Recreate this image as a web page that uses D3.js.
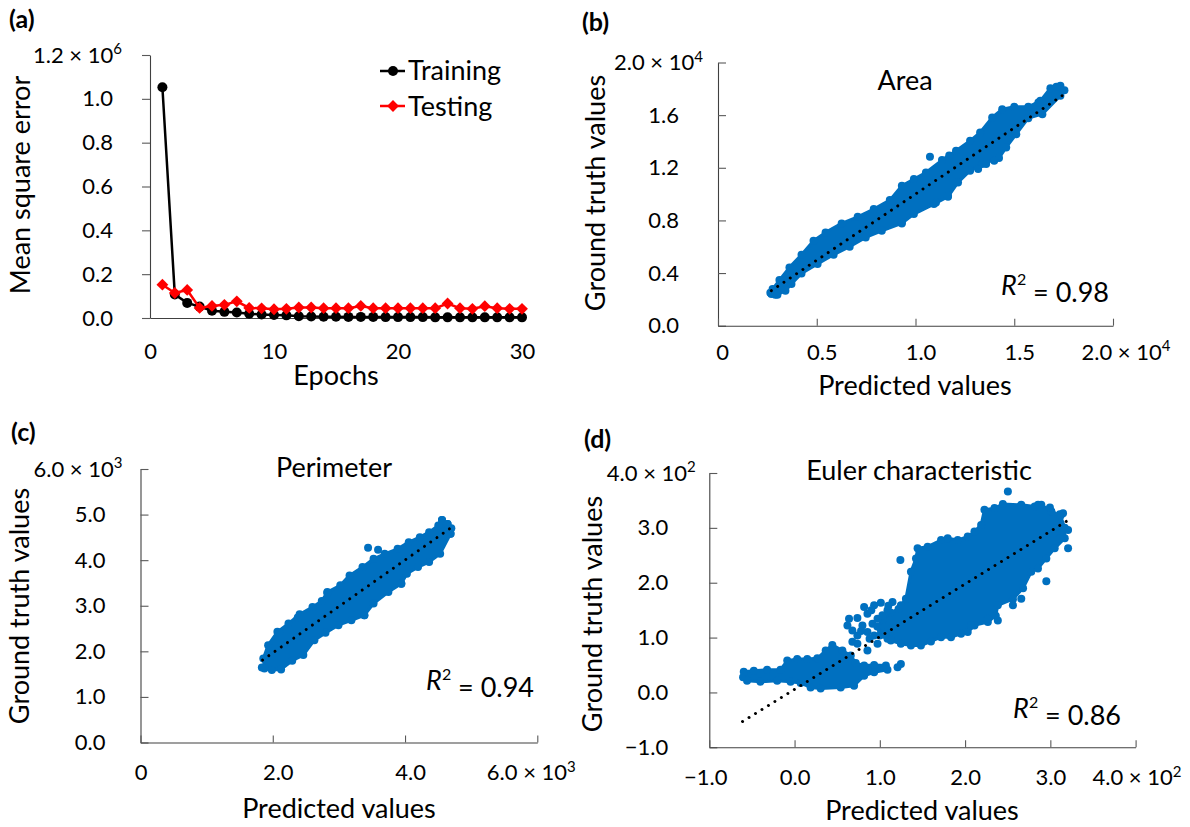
<!DOCTYPE html>
<html><head><meta charset="utf-8">
<script src="https://cdn.jsdelivr.net/npm/d3@7"></script>
<style>
html,body{margin:0;padding:0;background:#fff;}
svg{display:block;}
</style></head><body>
<svg id="chart" width="1190" height="827"></svg>
<script>
// ---------------- DATA ----------------
// (a) learning curves, MSE in units of 10^6
const epochs = [1,2,3,4,5,6,7,8,9,10,11,12,13,14,15,16,17,18,19,20,21,22,23,24,25,26,27,28,29,30];
const trainingMSE = [1.053,0.107,0.069,0.052,0.033,0.028,0.025,0.019,0.016,0.014,0.012,0.008,0.007,0.006,0.006,0.005,0.005,0.005,0.004,0.004,0.004,0.004,0.003,0.003,0.003,0.003,0.003,0.003,0.003,0.003];
const testingMSE  = [0.152,0.114,0.128,0.046,0.055,0.060,0.076,0.046,0.044,0.040,0.042,0.048,0.048,0.045,0.045,0.045,0.055,0.045,0.045,0.045,0.045,0.045,0.045,0.066,0.045,0.042,0.054,0.045,0.042,0.042];
const mseTicks = [0,0.2,0.4,0.6,0.8,1.0,1.2];
const mseTickLabels = ["0.0","0.2","0.4","0.6","0.8","1.0","1.2"];
const epochTicks = [0,10,20,30];
const epochTickLabels = ["0","10","20","30"];

// (b) Area: predicted (x) vs ground truth (y)
const areaTicksY = [0,4000,8000,12000,16000,20000];
const areaTickLabelsY = ["0.0","0.4","0.8","1.2","1.6","2.0"];
const areaTicksX = [0,5000,10000,15000,20000];
const areaTickLabelsX = ["0","0.5","1.0","1.5","2.0"];
const areaCloud = [[2764,2785],[3110,3468],[3618,4430],[4228,5392],[4837,6456],[5447,7089],[6260,7772],[7073,8278],[7886,8861],[8699,9544],[9309,10633],[9919,11139],[10528,11646],[11341,12582],[12053,13291],[12764,14051],[13272,14684],[13882,15823],[14390,16456],[15000,16633],[15711,16633],[16321,17089],[16829,18051],[17337,18228],[17541,17899],[17337,17468],[16423,16076],[15711,15772],[15102,14557],[14593,13544],[14228,12734],[13374,12278],[12764,11772],[12154,10886],[11646,9797],[10935,9241],[9919,8481],[9309,7772],[8293,7215],[7480,6709],[6667,6000],[5854,5392],[5041,4684],[4228,3975],[3720,3165],[3415,2658],[3008,2354],[2703,2405]];
const areaPoints = [[10732,12835],[11707,12937],[13984,12532],[13171,11899],[13577,12278],[11646,9873],[11037,9367],[9309,7848],[16728,17342],[16220,16962],[17134,18152],[2650,2500],[2900,2350]];
const areaFit = [[2700,2660],[17540,17590]];

// (c) Perimeter
const perimTicksY = [0,1000,2000,3000,4000,5000,6000];
const perimTickLabelsY = ["0.0","1.0","2.0","3.0","4.0","5.0","6.0"];
const perimTicksX = [0,2000,4000,6000];
const perimTickLabelsX = ["0","2.0","4.0","6.0"];
const perimCloud = [[1857,1844],[1930,2136],[2070,2427],[2238,2609],[2406,2813],[2601,2974],[2741,3105],[2825,3302],[3021,3447],[3161,3666],[3357,3848],[3524,4031],[3692,4140],[3888,4249],[4056,4395],[4224,4504],[4364,4614],[4503,4759],[4559,4883],[4643,4796],[4688,4577],[4531,4140],[4364,3958],[4196,3848],[4028,3703],[3944,3484],[3748,3302],[3524,3047],[3385,2792],[3189,2682],[2993,2573],[2797,2405],[2629,2245],[2462,1917],[2294,1793],[2126,1603],[1986,1589],[1874,1625]];
const perimPoints = [[3441,4271],[3592,4227],[3385,2792],[3273,2813],[3944,3484],[4559,4883],[4643,4796],[4688,4577],[2098,2405],[1835,1647],[2378,2741],[2825,3280],[4700,4700]];
const perimFit = [[1846,1808],[4671,4687]];

// (d) Euler characteristic
const eulerTicks = [-100,0,100,200,300,400];
const eulerTickLabels = ["\u22121.0","0.0","1.0","2.0","3.0","4.0"];
const eulerTail = [[-60.4,27.5],[-59.6,37.9],[-47.8,39.7],[-32.2,41.5],[-16.5,41.5],[-8.6,58.0],[3.1,61.1],[14.9,61.1],[26.7,62.3],[36.5,76.4],[44.3,86.7],[56.1,76.4],[65.9,67.2],[71.8,53.8],[81.6,48.9],[93.3,50.1],[107.1,48.9],[109.0,41.5],[93.3,36.7],[81.6,30.5],[69.8,12.2],[54.1,9.2],[30.6,7.3],[18.8,9.2],[7.1,17.1],[-4.7,19.5],[-20.4,21.4],[-40.0,19.5],[-55.7,21.4]];
const eulerCore = [[109.0,97.7],[100.0,104.0],[97.0,120.0],[103.1,132.0],[112.0,146.0],[122.0,152.0],[130.6,171.0],[136.5,219.9],[142.4,244.3],[144.3,262.7],[156.1,265.7],[171.8,277.9],[179.6,281.0],[191.4,277.9],[203.1,284.1],[211.0,293.2],[218.8,305.4],[222.7,332.9],[234.5,336.0],[244.3,343.3],[265.9,342.1],[281.6,339.0],[289.4,342.1],[301.2,329.9],[312.0,322.0],[316.9,300.0],[316.9,281.0],[305.1,262.7],[295.3,244.3],[285.5,226.0],[277.6,219.9],[268.0,190.0],[256.1,170.0],[238.4,158.8],[236.0,140.0],[226.7,128.3],[211.0,122.2],[203.1,110.0],[195.3,106.9],[183.5,100.8],[171.8,100.8],[160.0,92.9],[148.2,85.5],[136.5,85.5],[124.7,88.6],[112.9,94.7]];
const eulerPoints = [[63.9,134.4],[73.7,135.6],[81.6,155.8],[85.5,143.6],[93.3,158.8],[101.2,163.7],[114.9,164.9],[124.7,158.8],[67.8,113.0],[73.7,103.8],[85.5,110.0],[73.7,88.6],[85.5,76.4],[97.3,88.6],[91.4,125.2],[103.1,140.5],[109.0,149.7],[124.1,241.3],[62.0,122.2],[79.6,122.2],[97.3,134.4],[105.1,110.0],[93.3,103.8],[67.8,92.2],[88.0,98.0],[78.0,112.0],[90.0,150.0],[110.0,158.0],[250.2,366.5],[295.3,202.8],[320.8,262.7],[314.9,326.8],[320.8,296.3],[301.2,329.9],[265.9,171.0],[256.1,158.8],[238.4,131.3],[207.1,122.2],[226.7,134.4],[311.0,281.0],[120.8,45.8],[124.7,51.9],[285.6,342.1],[299.5,337.2],[311.1,324.9]];
const eulerFit = [[-61,-53],[320,313]];

// ---------------- DRAWING ----------------
const FONT = "Lato, 'Open Sans', 'DejaVu Sans', sans-serif";
const BLUE = "#0070C0", RED = "#FF0000", BLACK = "#000000";
const AXIS = "#404040";
const svg = d3.select("#chart");

function txt(x, y, s, size, anchor) {
  return svg.append("text").attr("x", x).attr("y", y)
    .attr("font-family", FONT).attr("font-size", size).attr("fill", "#000")
    .attr("text-anchor", anchor || "start").text(s);
}
function vtitle(cx, cy, s) {
  svg.append("text").attr("transform", `translate(${cx},${cy}) rotate(-90)`)
    .attr("dy", "0.35em").attr("text-anchor", "middle")
    .attr("font-family", FONT).attr("font-size", 27).attr("fill", "#000").text(s);
}
function r2(xEnd, base, val) {
  const t = svg.append("text").attr("x", xEnd).attr("y", base).attr("text-anchor", "end")
    .attr("font-family", FONT).attr("font-size", 27).attr("fill", "#000");
  t.append("tspan").attr("font-style", "italic").text("R");
  t.append("tspan").attr("font-size", 16).attr("dy", "-0.6em").text("2");
  t.append("tspan").attr("dy", "0.6em").text(" = " + val);
}
function styleAxis(g) {
  g.attr("font-family", null).attr("font-size", null);
  g.select(".domain").attr("stroke", AXIS).attr("stroke-width", 1.1);
  g.selectAll(".tick line").attr("stroke", "#595959").attr("stroke-width", 1.1);
  g.selectAll(".tick text").attr("fill", "#000").style("font-family", FONT).style("font-size", "22px");
}
function addExp(textSel, base, exp) {
  textSel.text(base + " \u00d7 10");
  textSel.append("tspan").attr("dy", "-0.55em").style("font-size", "15px").text(exp);
}
function yAxis(x0, yS, vals, labels, exp, o) {
  const g = svg.append("g").attr("transform", `translate(${x0},0)`);
  const ts = o.inward ? -8 : 8;
  g.call(d3.axisLeft(yS).tickValues(vals).tickFormat((d, i) => labels[i])
    .tickSize(ts).tickSizeOuter(0).tickPadding(o.inward ? o.gap : o.gap - 8));
  styleAxis(g);
  const n = vals.length;
  g.selectAll(".tick text").filter((d, i) => i === n - 1).each(function () {
    const t = d3.select(this).attr("x", -o.topGap);
    addExp(t, labels[n - 1], exp);
  });
}
function xAxis(y0, xS, vals, labels, exp, o) {
  const g = svg.append("g").attr("transform", `translate(0,${y0})`);
  g.call(d3.axisBottom(xS).tickValues(vals).tickFormat((d, i) => labels[i])
    .tickSize(o.tick ? -7 : 0).tickSizeOuter(0));
  styleAxis(g);
  const n = vals.length;
  g.selectAll(".tick text").attr("y", o.base).attr("dy", null)
    .attr("dx", (d, i) => (i === 0 ? (o.dx0 || 0) : o.dx));
  if (exp) {
    g.selectAll(".tick text").filter((d, i) => i === n - 1).each(function () {
      const t = d3.select(this).attr("text-anchor", "start").attr("dx", null).attr("x", o.lastStart);
      addExp(t, labels[n - 1], exp);
    });
  }
}
function cloud(poly, xS, yS) {
  svg.append("path").datum(poly)
    .attr("d", d3.line().x(d => xS(d[0])).y(d => yS(d[1])).curve(d3.curveLinearClosed))
    .attr("fill", BLUE).attr("stroke", BLUE).attr("stroke-width", 3).attr("stroke-linejoin", "round");
  dots(poly, xS, yS);
}
function dots(pts, xS, yS) {
  svg.append("g").selectAll("circle").data(pts).join("circle")
    .attr("cx", d => xS(d[0])).attr("cy", d => yS(d[1])).attr("r", 4).attr("fill", BLUE);
}
function fit(seg, xS, yS) {
  svg.append("path").datum(seg)
    .attr("d", d3.line().x(d => xS(d[0])).y(d => yS(d[1])))
    .attr("fill", "none").attr("stroke", "#000").attr("stroke-width", 3)
    .attr("stroke-linecap", "round").attr("stroke-dasharray", "0.01 7.6");
}
function panelLabel(x, y, s) {
  svg.append("text").attr("x", x).attr("y", y).attr("font-family", FONT)
    .attr("font-weight", "bold").attr("font-size", 25).attr("fill", "#000").text(s);
}

// ---------- (a) ----------
{
  const x = d3.scaleLinear().domain([0, 30]).range([150, 522]);
  const y = d3.scaleLinear().domain([0, 1.2]).range([318, 55]);
  yAxis(150, y, mseTicks, mseTickLabels, "6", { inward: false, gap: 37, topGap: 28 });
  xAxis(318, x, epochTicks, epochTickLabels, null, { tick: false, base: 41, dx: 0 });
  const line = d3.line().x((d, i) => x(epochs[i])).y(d => y(d));
  svg.append("path").datum(trainingMSE).attr("d", line).attr("fill", "none")
    .attr("stroke", BLACK).attr("stroke-width", 2.5);
  svg.append("g").selectAll("circle").data(trainingMSE).join("circle")
    .attr("cx", (d, i) => x(epochs[i])).attr("cy", d => y(d)).attr("r", 5).attr("fill", BLACK);
  svg.append("path").datum(testingMSE).attr("d", line).attr("fill", "none")
    .attr("stroke", RED).attr("stroke-width", 2.5);
  const diamond = d3.symbol(d3.symbolSquare, 70);
  svg.append("g").selectAll("path").data(testingMSE).join("path").attr("d", diamond)
    .attr("transform", (d, i) => `translate(${x(epochs[i])},${y(d)}) rotate(45)`).attr("fill", RED);
  // legend
  svg.append("line").attr("x1", 380).attr("x2", 405).attr("y1", 71).attr("y2", 71).attr("stroke", BLACK).attr("stroke-width", 2.5);
  svg.append("circle").attr("cx", 393).attr("cy", 71).attr("r", 5).attr("fill", BLACK);
  txt(408, 80, "Training", 27);
  svg.append("line").attr("x1", 380).attr("x2", 405).attr("y1", 106).attr("y2", 106).attr("stroke", RED).attr("stroke-width", 2.5);
  svg.append("path").attr("d", diamond).attr("transform", "translate(393,106) rotate(45)").attr("fill", RED);
  txt(408, 116, "Testing", 27);
  vtitle(21, 185, "Mean square error");
  txt(336, 385, "Epochs", 27, "middle");
  panelLabel(9, 28, "(a)");
}

// ---------- (b) ----------
{
  const x = d3.scaleLinear().domain([0, 20000]).range([718, 1113]);
  const y = d3.scaleLinear().domain([0, 20000]).range([325.7, 62.5]);
  yAxis(718, y, areaTicksY, areaTickLabelsY, "4", { inward: true, gap: 39, topGap: 15 });
  xAxis(325.7, x, areaTicksX, areaTickLabelsX, "4", { tick: true, base: 34, dx: 5, dx0: 4, lastStart: -32 });
  cloud(areaCloud, x, y);
  dots(areaPoints, x, y);
  fit(areaFit, x, y);
  txt(905, 90, "Area", 27, "middle");
  r2(1109, 295, "0.98");
  vtitle(596, 193, "Ground truth values");
  txt(915, 395, "Predicted values", 27, "middle");
  panelLabel(582, 31, "(b)");
}

// ---------- (c) ----------
{
  const x = d3.scaleLinear().domain([0, 6000]).range([140.5, 537.3]);
  const y = d3.scaleLinear().domain([0, 6000]).range([742.5, 469]);
  yAxis(140.5, y, perimTicksY, perimTickLabelsY, "3", { inward: true, gap: 35, topGap: 18 });
  xAxis(742.5, x, perimTicksX, perimTickLabelsX, "3", { tick: true, base: 37.5, dx: 5, dx0: 0, lastStart: -51 });
  cloud(perimCloud, x, y);
  dots(perimPoints, x, y);
  fit(perimFit, x, y);
  txt(334, 477, "Perimeter", 27, "middle");
  r2(534, 690, "0.94");
  vtitle(20, 606, "Ground truth values");
  txt(339, 818, "Predicted values", 27, "middle");
  panelLabel(11, 441, "(c)");
}

// ---------- (d) ----------
{
  const x = d3.scaleLinear().domain([-100, 400]).range([709.3, 1135.6]);
  const y = d3.scaleLinear().domain([-100, 400]).range([747.3, 473]);
  yAxis(709.3, y, eulerTicks, eulerTickLabels, "2", { inward: true, gap: 41, topGap: 13.5 });
  xAxis(747.3, x, eulerTicks, eulerTickLabels, "2", { tick: true, base: 38, dx: 0, dx0: -4, lastStart: -43.6 });
  cloud(eulerTail, x, y);
  cloud(eulerCore, x, y);
  dots(eulerPoints, x, y);
  fit(eulerFit, x, y);
  txt(919, 480, "Euler characteristic", 27, "middle");
  r2(1121, 718, "0.86");
  vtitle(593, 614, "Ground truth values");
  txt(922, 820, "Predicted values", 27, "middle");
  panelLabel(584, 448, "(d)");
}
</script>
</body></html>
